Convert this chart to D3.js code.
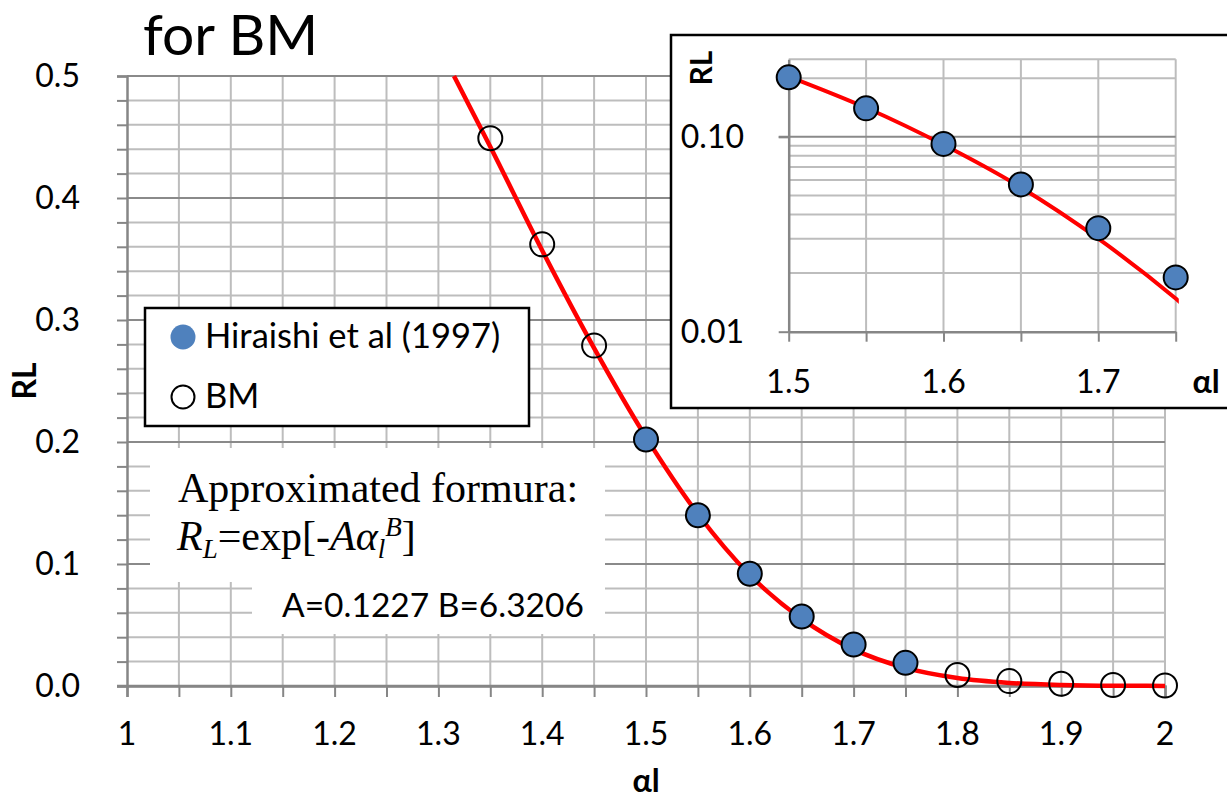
<!DOCTYPE html>
<html>
<head>
<meta charset="utf-8">
<script src="https://cdn.jsdelivr.net/npm/d3@7"></script>
<style>
  html, body { margin: 0; padding: 0; background: #ffffff; }
  svg { display: block; }
</style>
</head>
<body>
<svg id="chart" width="1227" height="798"></svg>
<script>
// ---------------- data ----------------
const titleText = "for BM";
const xTickValues = [1, 1.1, 1.2, 1.3, 1.4, 1.5, 1.6, 1.7, 1.8, 1.9, 2];
const xTickLabels = ["1", "1.1", "1.2", "1.3", "1.4", "1.5", "1.6", "1.7", "1.8", "1.9", "2"];
const yTickValues = [0, 0.1, 0.2, 0.3, 0.4, 0.5];
const yTickLabels = ["0.0", "0.1", "0.2", "0.3", "0.4", "0.5"];

const hiraishiX = [1.5, 1.55, 1.6, 1.65, 1.7, 1.75];
const hiraishiY = [0.202, 0.140, 0.092, 0.057, 0.034, 0.019];

const bmX = [1.35, 1.4, 1.45, 1.8, 1.85, 1.9, 1.95, 2.0];
const bmY = [0.449, 0.362, 0.279, 0.009, 0.004, 0.0018, 0.0008, 0.0004];

// red approximation curve
const fitX = [1.315, 1.35, 1.4, 1.45, 1.5, 1.55, 1.6, 1.65, 1.7, 1.75, 1.8, 1.85, 1.9, 1.95, 2.0];
const fitY = [0.5, 0.442, 0.357, 0.277, 0.204, 0.141, 0.091, 0.055, 0.030, 0.0148, 0.0065, 0.0025, 0.0008, 0.0002, 0.0001];

const legendLabels = ["Hiraishi et al (1997)", "BM"];
const paramText = "A=0.1227 B=6.3206";

// inset
const insetXTickValues = [1.5, 1.6, 1.7];
const insetXTickLabels = ["1.5", "1.6", "1.7"];
const insetYTickValues = [0.01, 0.1];
const insetYTickLabels = ["0.01", "0.10"];

// ---------------- drawing ----------------
const svg = d3.select("#chart");
const SANS = "Lato, 'Open Sans', sans-serif";
const SERIF = "'Liberation Serif', 'Times New Roman', serif";
const MINOR = "#bdbdbd", MAJOR = "#8a8a8a", AXIS = "#868686";
const BLUE = "#4f81bd", RED = "#ff0000";

// main scales
const x = d3.scaleLinear().domain([1, 2]).range([127, 1165]);
const y = d3.scaleLinear().domain([0, 0.5]).range([686, 76]);

const main = svg.append("g");

// gridlines
const xMinor = d3.range(21).map(i => 1 + i * 0.05).filter(v => v > 1.001);
const yMinor = d3.range(26).map(i => i * 0.02).filter(v => v > 0.001 && Math.abs(v * 10 - Math.round(v * 10)) > 1e-6);
const yMajor = yTickValues.filter(v => v > 0);

main.append("g").selectAll("line").data(xMinor).join("line")
  .attr("x1", d => x(d)).attr("x2", d => x(d))
  .attr("y1", y(0.5)).attr("y2", y(0))
  .attr("stroke", MINOR).attr("stroke-width", 2);
main.append("g").selectAll("line").data(yMinor).join("line")
  .attr("x1", x(1)).attr("x2", x(2))
  .attr("y1", d => y(d)).attr("y2", d => y(d))
  .attr("stroke", MINOR).attr("stroke-width", 2);
main.append("g").selectAll("line").data(yMajor).join("line")
  .attr("x1", x(1)).attr("x2", x(2))
  .attr("y1", d => y(d)).attr("y2", d => y(d))
  .attr("stroke", MAJOR).attr("stroke-width", 2);

// axes
const yAxisTicks = d3.range(26).map(i => i * 0.02);
const xAxisTicks = d3.range(21).map(i => 1 + i * 0.05);
const yAxisG = main.append("g").attr("transform", `translate(${x(1)},0)`)
  .call(d3.axisLeft(y).tickValues(yAxisTicks).tickSize(10).tickFormat(""));
const xAxisG = main.append("g").attr("transform", `translate(0,${y(0)})`)
  .call(d3.axisBottom(x).tickValues(xAxisTicks).tickSize(11).tickFormat(""));
[yAxisG, xAxisG].forEach(g => {
  g.selectAll("path").attr("stroke", AXIS).attr("stroke-width", 2.5);
  g.selectAll("line").attr("stroke", AXIS).attr("stroke-width", 2);
});
main.append("line").attr("x1", x(1) - 10).attr("x2", x(2)).attr("y1", y(0)).attr("y2", y(0))
  .attr("stroke", AXIS).attr("stroke-width", 2.5);

// tick labels
main.append("g").selectAll("text").data(yTickValues).join("text")
  .attr("x", 80).attr("y", d => y(d) + 11)
  .attr("text-anchor", "end")
  .attr("font-family", SANS).attr("font-size", 32).attr("fill", "#000")
  .text((d, i) => yTickLabels[i]);
main.append("g").selectAll("text").data(xTickValues).join("text")
  .attr("x", d => x(d)).attr("y", 745)
  .attr("text-anchor", "middle")
  .attr("font-family", SANS).attr("font-size", 32).attr("fill", "#000")
  .text((d, i) => xTickLabels[i]);

// axis titles
main.append("text").attr("x", (x(1) + x(2)) / 2).attr("y", 792)
  .attr("text-anchor", "middle").attr("font-family", SANS).attr("font-weight", "bold")
  .attr("font-size", 32).text("αl");
main.append("text").attr("transform", `translate(36,${(y(0) + y(0.5)) / 2}) rotate(-90)`)
  .attr("text-anchor", "middle").attr("font-family", SANS).attr("font-weight", "bold")
  .attr("font-size", 32).text("RL");

// title
svg.append("text").attr("x", 143).attr("y", 55)
  .attr("font-family", SANS).attr("font-size", 57).attr("fill", "#000").text(titleText);

// fit curve
const line = d3.line().x(d => x(d[0])).y(d => y(d[1])).curve(d3.curveMonotoneX);
main.append("path").datum(fitX.map((v, i) => [v, fitY[i]]))
  .attr("d", line).attr("fill", "none").attr("stroke", RED).attr("stroke-width", 4.5);

// markers
main.append("g").selectAll("circle").data(bmX.map((v, i) => [v, bmY[i]])).join("circle")
  .attr("cx", d => x(d[0])).attr("cy", d => y(d[1])).attr("r", 12)
  .attr("fill", "none").attr("stroke", "#000").attr("stroke-width", 2);
main.append("g").selectAll("circle").data(hiraishiX.map((v, i) => [v, hiraishiY[i]])).join("circle")
  .attr("cx", d => x(d[0])).attr("cy", d => y(d[1])).attr("r", 12)
  .attr("fill", BLUE).attr("stroke", "#000").attr("stroke-width", 2);

// legend
const lg = svg.append("g");
lg.append("rect").attr("x", 145).attr("y", 308).attr("width", 384).attr("height", 118)
  .attr("fill", "#fff").attr("stroke", "#000").attr("stroke-width", 2.5);
lg.append("circle").attr("cx", 183).attr("cy", 337).attr("r", 12.5).attr("fill", BLUE);
lg.append("circle").attr("cx", 183).attr("cy", 397).attr("r", 11.5)
  .attr("fill", "none").attr("stroke", "#000").attr("stroke-width", 2);
lg.selectAll("text.lab").data(legendLabels).join("text").attr("class", "lab")
  .attr("x", 205).attr("y", (d, i) => 348 + i * 60)
  .attr("font-family", SANS).attr("font-size", 34.5).attr("fill", "#000").text(d => d);

// formula text boxes
const fg = svg.append("g");
fg.append("rect").attr("x", 150).attr("y", 448).attr("width", 455).attr("height", 134).attr("fill", "#fff");
fg.append("rect").attr("x", 252).attr("y", 581).attr("width", 353).attr("height", 53).attr("fill", "#fff");
fg.append("text").attr("x", 178).attr("y", 502)
  .attr("font-family", SERIF).attr("font-size", 42).attr("fill", "#000").text("Approximated formura:");
const f2 = fg.append("text").attr("x", 177).attr("y", 550)
  .attr("font-family", SERIF).attr("font-size", 42).attr("fill", "#000");
f2.append("tspan").attr("font-style", "italic").text("R");
f2.append("tspan").attr("font-style", "italic").attr("font-size", 27).attr("dy", 8).text("L");
f2.append("tspan").attr("dy", -8).text("=exp[-");
f2.append("tspan").attr("font-style", "italic").text("Aα");
f2.append("tspan").attr("font-style", "italic").attr("font-size", 27).attr("dy", 8).text("l");
f2.append("tspan").attr("font-style", "italic").attr("font-size", 27).attr("dy", -22).text("B");
f2.append("tspan").attr("dy", 14).text("]");
fg.append("text").attr("x", 282).attr("y", 617)
  .attr("font-family", SANS).attr("font-size", 33.5).attr("fill", "#000").text(paramText);

// ---------------- inset ----------------
const ins = svg.append("g");
ins.append("rect").attr("x", 671).attr("y", 35).attr("width", 570).attr("height", 373)
  .attr("fill", "#fff").attr("stroke", "#000").attr("stroke-width", 2.5);

const xi = d3.scaleLinear().domain([1.5, 1.75]).range([788.7, 1175.7]);
const yi = d3.scaleLog().domain([0.01, 0.25]).range([331.7, 59.3]);

const xiGrid = [1.55, 1.6, 1.65, 1.7, 1.75];
const yiMinor = [0.02, 0.03, 0.04, 0.05, 0.06, 0.07, 0.08, 0.09, 0.2, 0.25];
ins.append("g").selectAll("line").data(xiGrid).join("line")
  .attr("x1", d => xi(d)).attr("x2", d => xi(d)).attr("y1", yi(0.25)).attr("y2", yi(0.01))
  .attr("stroke", MINOR).attr("stroke-width", 2);
ins.append("g").selectAll("line").data(yiMinor).join("line")
  .attr("x1", xi(1.5)).attr("x2", xi(1.75)).attr("y1", d => yi(d)).attr("y2", d => yi(d))
  .attr("stroke", MINOR).attr("stroke-width", 2);
ins.append("line").attr("x1", xi(1.5) - 10).attr("x2", xi(1.75)).attr("y1", yi(0.1)).attr("y2", yi(0.1))
  .attr("stroke", MAJOR).attr("stroke-width", 2);

const xiAxis = ins.append("g").attr("transform", `translate(0,${yi(0.01)})`)
  .call(d3.axisBottom(xi).tickValues([1.5, 1.55, 1.6, 1.65, 1.7, 1.75]).tickSize(10).tickSizeOuter(0).tickFormat(""));
const yiAxis = ins.append("g").attr("transform", `translate(${xi(1.5)},0)`)
  .call(d3.axisLeft(yi).tickValues([0.01, 0.1]).tickSize(10).tickSizeOuter(0).tickFormat(""));
[xiAxis, yiAxis].forEach(g => {
  g.selectAll("path").attr("stroke", AXIS).attr("stroke-width", 2.5);
  g.selectAll("line").attr("stroke", AXIS).attr("stroke-width", 2);
});

ins.append("g").selectAll("text").data(insetYTickValues).join("text")
  .attr("x", 744).attr("y", d => yi(d) + 11).attr("text-anchor", "end")
  .attr("font-family", SANS).attr("font-size", 32).text((d, i) => insetYTickLabels[i]);
ins.append("g").selectAll("text").data(insetXTickValues).join("text")
  .attr("x", d => xi(d)).attr("y", 393).attr("text-anchor", "middle")
  .attr("font-family", SANS).attr("font-size", 32).text((d, i) => insetXTickLabels[i]);
ins.append("text").attr("x", 1206).attr("y", 393).attr("text-anchor", "middle")
  .attr("font-family", SANS).attr("font-weight", "bold").attr("font-size", 32).text("αl");
ins.append("text").attr("transform", "translate(712,68) rotate(-90)").attr("text-anchor", "middle")
  .attr("font-family", SANS).attr("font-weight", "bold").attr("font-size", 30).text("RL");

svg.append("defs").append("clipPath").attr("id", "insClip")
  .append("rect").attr("x", xi(1.5)).attr("y", 40).attr("width", xi(1.752) - xi(1.5)).attr("height", 300);
const lineI = d3.line().x(d => xi(d[0])).y(d => yi(d[1])).curve(d3.curveMonotoneX);
ins.append("path").datum(fitX.map((v, i) => [v, fitY[i]]).filter(d => d[0] >= 1.5 && d[0] <= 1.85))
  .attr("d", lineI).attr("clip-path", "url(#insClip)")
  .attr("fill", "none").attr("stroke", RED).attr("stroke-width", 4);
ins.append("g").selectAll("circle").data(hiraishiX.map((v, i) => [v, hiraishiY[i]])).join("circle")
  .attr("cx", d => xi(d[0])).attr("cy", d => yi(d[1])).attr("r", 12)
  .attr("fill", BLUE).attr("stroke", "#000").attr("stroke-width", 2);
</script>
</body>
</html>
